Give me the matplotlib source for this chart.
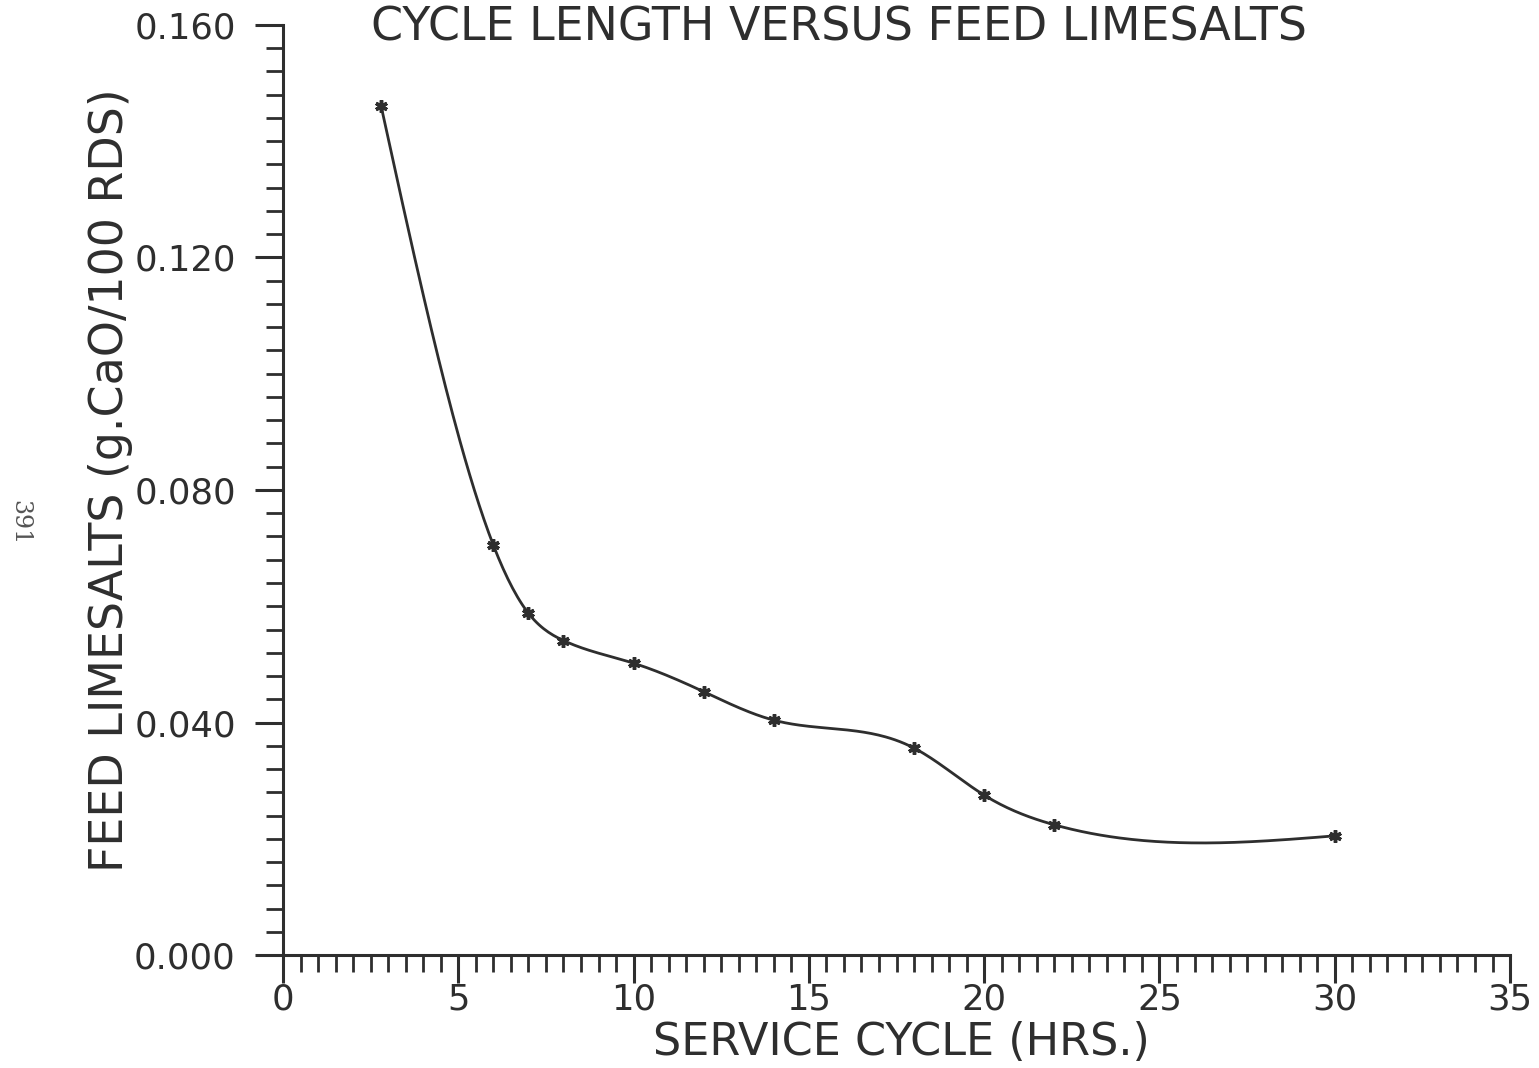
import matplotlib.pyplot as plt
import numpy as np

# Data
service_cycle = [2.8, 6.0, 7.0, 8.0, 10.0, 12.0, 14.0, 18.0, 20.0, 22.0, 30.0]
feed_limesalts = [0.146, 0.0705, 0.0588, 0.0541, 0.0502, 0.0453, 0.0404, 0.0356, 0.0275, 0.0224, 0.0205]

title_text = 'CYCLE LENGTH VERSUS FEED LIMESALTS'
xlabel_text = 'SERVICE CYCLE (HRS.)'
ylabel_text = 'FEED LIMESALTS (g.CaO/100 RDS)'
page_number = '391'

INK = '#2e2e2e'


# natural cubic spline, used only to draw the smooth line through the points
def smooth_curve(x, y, n=400):
    x = np.asarray(x, float)
    y = np.asarray(y, float)
    k = len(x)
    h = np.diff(x)
    A = np.zeros((k, k))
    b = np.zeros(k)
    A[0, 0] = 1
    A[-1, -1] = 1
    for i in range(1, k - 1):
        A[i, i - 1] = h[i - 1]
        A[i, i] = 2 * (h[i - 1] + h[i])
        A[i, i + 1] = h[i]
        b[i] = 3 * ((y[i + 1] - y[i]) / h[i] - (y[i] - y[i - 1]) / h[i - 1])
    c = np.linalg.solve(A, b)
    xs = np.linspace(x[0], x[-1], n)
    idx = np.clip(np.searchsorted(x, xs) - 1, 0, k - 2)
    dx = xs - x[idx]
    bb = (y[idx + 1] - y[idx]) / h[idx] - h[idx] * (2 * c[idx] + c[idx + 1]) / 3
    d = (c[idx + 1] - c[idx]) / (3 * h[idx])
    ys = y[idx] + bb * dx + c[idx] * dx ** 2 + d * dx ** 3
    return xs, ys


fig = plt.figure(figsize=(15.39, 10.68), dpi=100)
ax = fig.add_axes([0.1839, 0.1058, 0.7973, 0.8708])

xs, ys = smooth_curve(service_cycle, feed_limesalts)
ax.plot(xs, ys, color=INK, linewidth=2.0)
ax.plot(service_cycle, feed_limesalts, linestyle='none', marker=(6, 2, 0),
        markersize=9, markeredgewidth=2.5, color=INK)

ax.set_xlim(0, 35)
ax.set_ylim(0, 0.160)
ax.set_xticks(np.arange(0, 36, 5))
ax.set_xticks(np.arange(0, 35.01, 0.5), minor=True)
ax.set_yticks(np.arange(0, 0.161, 0.040))
ax.set_yticks(np.arange(0, 0.1601, 0.004), minor=True)
ax.set_yticklabels(['%.3f' % v for v in np.arange(0, 0.161, 0.040)])

for side in ['top', 'right']:
    ax.spines[side].set_visible(False)
for side in ['left', 'bottom']:
    ax.spines[side].set_linewidth(2.2)
    ax.spines[side].set_color(INK)

ax.tick_params(which='major', direction='out', length=20, width=2.2, color=INK,
               labelsize=25.5, labelcolor=INK)
ax.tick_params(which='minor', direction='out', length=12, width=2.0, color=INK)
ax.tick_params(axis='y', which='major', pad=14)
ax.tick_params(axis='x', which='major', pad=0)

fig.text(0.545, 0.974, title_text, ha='center', va='center', fontsize=33, color=INK)
fig.text(0.586, 0.024, xlabel_text, ha='center', va='center', fontsize=32, color=INK)
fig.text(0.072, 0.55, ylabel_text, ha='center', va='center', rotation=90, fontsize=33, color=INK)
fig.text(0.013, 0.511, page_number, ha='center', va='center', rotation=-90,
         fontsize=17, color='#555555', family='DejaVu Serif')

plt.savefig('out.png', dpi=100)
